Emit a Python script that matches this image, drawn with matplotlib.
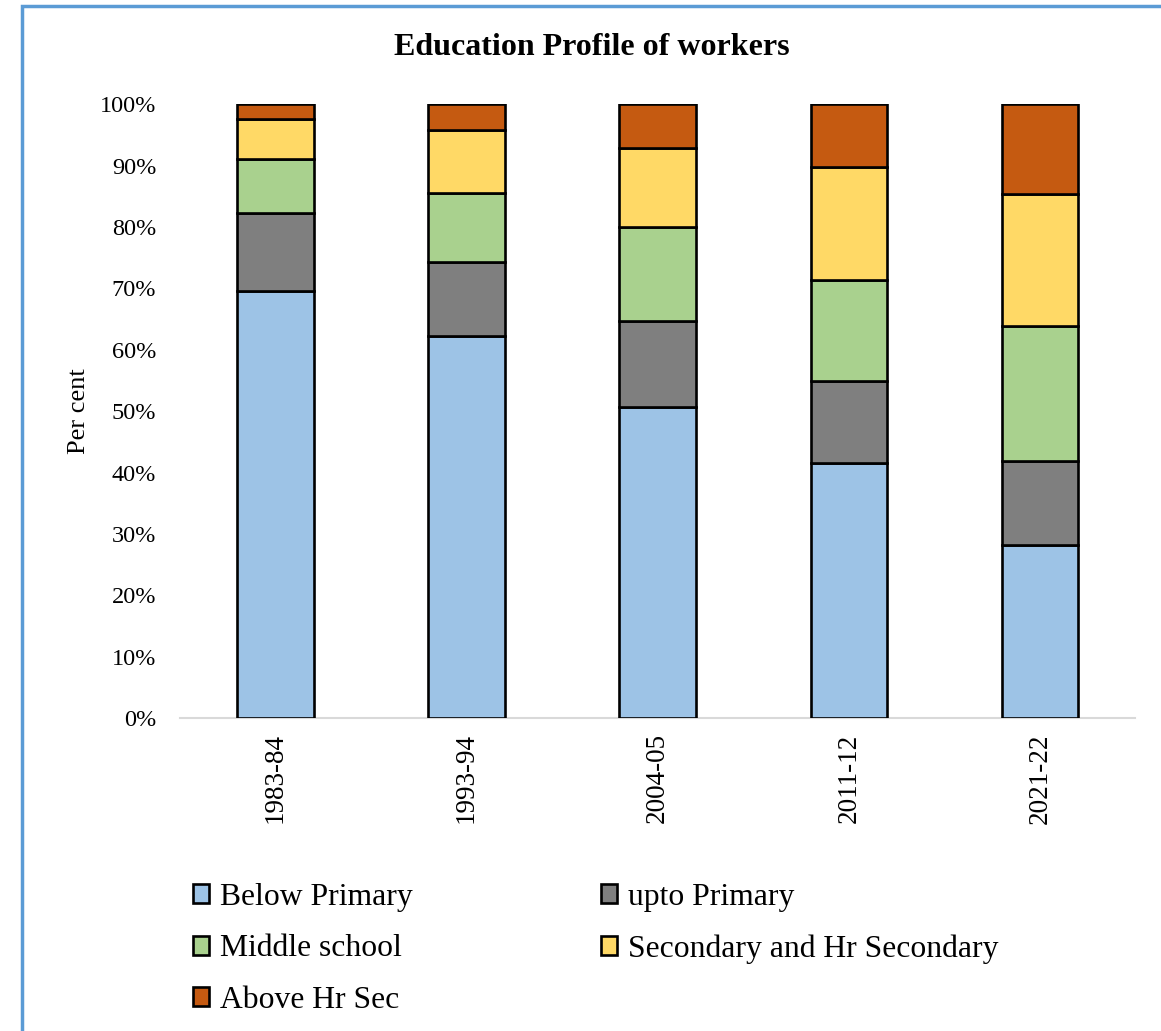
import matplotlib
matplotlib.use("Agg")
import matplotlib.pyplot as plt
from matplotlib.patches import Rectangle, Patch
from matplotlib.ticker import PercentFormatter

periods = ["1983-84", "1993-94", "2004-05", "2011-12", "2021-22"]
below_primary = [69.6, 62.3, 50.7, 41.5, 28.2]
upto_primary = [12.6, 12.0, 14.0, 13.4, 13.7]
middle_school = [8.9, 11.3, 15.3, 16.4, 21.9]
secondary_hr_secondary = [6.4, 10.2, 12.9, 18.5, 21.6]
above_hr_sec = [2.5, 4.2, 7.1, 10.2, 14.6]

series_names = ["Below Primary", "upto Primary", "Middle school",
                "Secondary and Hr Secondary", "Above Hr Sec"]
series_values = [below_primary, upto_primary, middle_school,
                 secondary_hr_secondary, above_hr_sec]
colors = ["#9DC3E6", "#7F7F7F", "#A9D18E", "#FFD966", "#C55A11"]

plt.rcParams["font.family"] = ["Liberation Serif", "DejaVu Serif"]

fig = plt.figure(figsize=(11.61, 10.31), dpi=100)
ax = fig.add_axes([0.155, 0.3035, 0.823, 0.5955])

x = range(len(periods))
bottom = [0.0] * len(periods)
handles = []
for name, vals, col in zip(series_names, series_values, colors):
    ax.bar(x, vals, width=0.4, bottom=bottom, color=col,
           edgecolor="black", linewidth=1.9, zorder=3)
    bottom = [b + v for b, v in zip(bottom, vals)]
    handles.append(Patch(facecolor=col, edgecolor="black", linewidth=1.9, label=name))

ax.set_xlim(-0.5, len(periods) - 0.5)
ax.set_ylim(0, 100)
ax.set_yticks(range(0, 101, 10))
ax.yaxis.set_major_formatter(PercentFormatter(decimals=0))
ax.set_xticks(list(x))
ax.set_xticklabels(periods, rotation=90, fontsize=19.5)
ax.tick_params(axis="y", length=0, labelsize=17.5, pad=17)
ax.tick_params(axis="x", length=0, pad=11)
for side in ("left", "right", "top"):
    ax.spines[side].set_visible(False)
ax.spines["bottom"].set_color("#D9D9D9")
ax.spines["bottom"].set_linewidth(1.5)
ax.set_ylabel("Per cent", fontsize=19, labelpad=7.5)

fig.text(0.51, 0.954, "Education Profile of workers", ha="center", va="center",
         fontsize=23, fontweight="bold")

order = [0, 2, 4, 1, 3]
fig.legend([handles[i] for i in order], [series_names[i] for i in order],
           ncol=2, loc="upper left", bbox_to_anchor=(0.166, 0.144),
           frameon=False, fontsize=22.8, handlelength=0.5, handleheight=0.55,
           handletextpad=0.35, columnspacing=5.95, labelspacing=0.72,
           borderaxespad=0, borderpad=0)

fig.patches.append(Rectangle((22 / 1161, -0.05), 1.1, 1 - 6 / 1031 + 0.05,
                             transform=fig.transFigure, fill=False,
                             edgecolor="#5B9BD5", linewidth=2.5))

fig.savefig("out.png", dpi=100)
